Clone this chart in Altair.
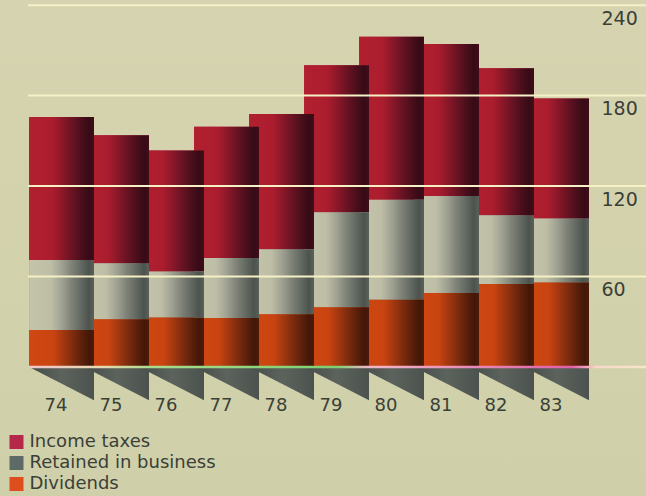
import altair as alt
import pandas as pd

years = [74, 75, 76, 77, 78, 79, 80, 81, 82, 83]
dividends = [24.5, 31.7, 32.8, 32.6, 35.1, 39.6, 44.7, 49.1, 55.0, 56.1]
retained = [46.5, 37.1, 30.5, 39.8, 43.1, 63.0, 66.3, 64.4, 45.7, 42.4]
income_taxes = [94.8, 84.9, 80.3, 86.9, 89.6, 97.5, 108.1, 100.8, 97.5, 79.6]
grid_values = [60, 120, 180, 240]
series_names = ["Income taxes", "Retained in business", "Dividends"]
series_colors = ["#b5284a", "#5d6a66", "#dd4e1c"]
INK = "#3a3f38"
FONT = "DejaVu Sans"


def shaded(stops, vertical=False):
    # Linear shading; columns deepen toward their right edge.
    return {
        "gradient": "linear", "x1": 0, "x2": 0 if vertical else 1, "y1": 0, "y2": 1 if vertical else 0,
        "stops": [{"offset": o, "color": c} for o, c in stops],
    }


shades = {
    "Income taxes": shaded([(0, "#b2202f"), (0.36, "#ab1d2e"), (0.5, "#8e1829"), (0.66, "#6a1323"),
                            (0.8, "#4c0f1c"), (0.92, "#360b16"), (1, "#400d19")]),
    "Retained in business": shaded([(0, "#c5c4ab"), (0.34, "#bebea6"), (0.5, "#a0a292"), (0.66, "#7d8176"),
                                    (0.8, "#636962"), (0.92, "#4c534d"), (1, "#5a605a")]),
    "Dividends": shaded([(0, "#d04812"), (0.38, "#c94411"), (0.52, "#a5380f"), (0.68, "#7c2b0e"),
                         (0.82, "#5a1f0a"), (0.93, "#431708"), (1, "#4d1a09")]),
}

rows = []
for i, year in enumerate(years):
    d, r, t = dividends[i], retained[i], income_taxes[i]
    for name, low, high in [("Dividends", 0, d), ("Retained in business", d, d + r), ("Income taxes", d + r, d + r + t)]:
        rows.append({"year": year, "left": year - 0.68, "right": year + 0.5, "series": name, "low": low, "high": high})
table = pd.DataFrame(rows)

x_scale = alt.Scale(domain=[73.5, 83.5], range=[39, 589])
y_scale = alt.Scale(domain=[-85.5, 243.4], nice=False, zero=False)
x_enc = alt.X(
    "left:Q", scale=x_scale, title=None,
    axis=alt.Axis(values=years, format="d", domain=False, ticks=False, grid=False, offset=-100, zindex=1,
                  labelOffset=-11, labelPadding=0, labelFont=FONT, labelFontSize=18, labelColor=INK,
                  labelBaseline="top"),
)
y_enc = alt.Y(
    "low:Q", scale=y_scale, title=None,
    axis=alt.Axis(values=grid_values, orient="right", domain=False, ticks=False, grid=False, offset=-45, zindex=1,
                  labelAlign="left", labelOffset=13, labelPadding=0, labelFont=FONT, labelFontSize=19,
                  labelColor=INK),
)

# Paper tone, a little greener toward the foot of the page.
paper = alt.Chart(pd.DataFrame({"v": [0]})).mark_rect(
    color=shaded([(0, "#d6d4b0"), (1, "#cfd0a9")], vertical=True)
).encode(x=alt.value(0), x2=alt.value(646), y=alt.value(0), y2=alt.value(496))

# Flat layer carries the axes and the legend; the shaded columns are drawn over it.
base = alt.Chart(table).mark_rect().encode(
    x=x_enc, x2="right:Q", y=y_enc, y2="high:Q",
    color=alt.Color(
        "series:N", scale=alt.Scale(domain=series_names, range=series_colors), title=None,
        legend=alt.Legend(orient="none", legendX=7.5, legendY=433, symbolType="square", symbolSize=196,
                          symbolStrokeWidth=0, labelFont=FONT, labelFontSize=18, labelColor=INK,
                          labelLimit=300, labelOffset=4, rowPadding=3),
    ),
)

plain_x = alt.X("left:Q", scale=x_scale)
plain_y = alt.Y("low:Q", scale=y_scale)

# Wedges hanging under the baseline, one per year.
wedge_rows = []
for year in years:
    wedge_rows.append({"year": year, "x": year - 0.68, "top": 0, "bottom": 0})
    wedge_rows.append({"year": year, "x": year + 0.5, "top": 0, "bottom": -22})
wedges = alt.Chart(pd.DataFrame(wedge_rows)).mark_area(
    color=shaded([(0, "#454c48"), (0.5, "#5c625c"), (1, "#4c534e")]), line=False
).encode(
    x=alt.X("x:Q", scale=x_scale), y=alt.Y("top:Q", scale=y_scale), y2="bottom:Q", detail="year:O",
)

# Earlier years overlap later ones, so the columns go down from last to first.
columns = []
for year in reversed(years):
    for name in series_names:
        sub = table[(table.year == year) & (table.series == name)]
        columns.append(
            alt.Chart(sub).mark_rect(color=shades[name]).encode(x=plain_x, x2="right:Q", y=plain_y, y2="high:Q")
        )

rules = alt.Chart(pd.DataFrame({"v": grid_values})).mark_rule(color="#f6f0c6", strokeWidth=2).encode(
    x=alt.value(28), x2=alt.value(646), y=alt.Y("v:Q", scale=y_scale),
)

baseline = alt.Chart(pd.DataFrame({"v": [0]})).mark_rect(
    height=2.5,
    color=shaded([(0, "#eec6cc"), (0.12, "#e8d8b0"), (0.2, "#a8dc8c"), (0.5, "#7ed070"), (0.55, "#f0b8c8"),
                  (0.88, "#e060a8"), (0.92, "#f8d8c8"), (1, "#f6e8c8")]),
).encode(x=alt.value(29), x2=alt.value(646), y=alt.Y("v:Q", scale=y_scale))

chart = alt.layer(paper, base, wedges, *columns, rules, baseline).properties(
    width=646, height=496, padding=0, autosize=alt.AutoSizeParams(type="none"), background="#d4d3ae",
).configure_view(stroke=None)

chart.save("out.html", embed_options={"renderer": "svg", "actions": False})
